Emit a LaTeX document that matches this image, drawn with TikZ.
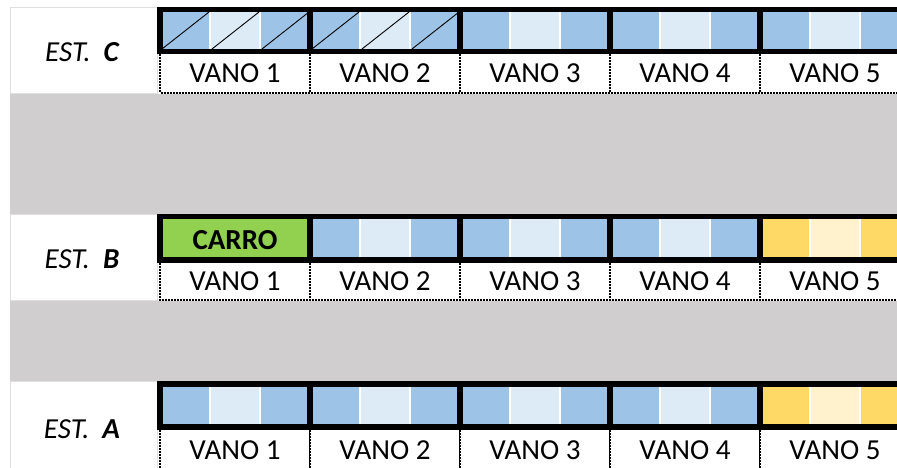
\documentclass[tikz,border=0pt]{standalone}
\usepackage{fontspec}
\setmainfont{Carlito}
\definecolor{azulosc}{RGB}{157,195,230}
\definecolor{azulcla}{RGB}{221,235,247}
\definecolor{amarosc}{RGB}{255,217,102}
\definecolor{amarcla}{RGB}{255,242,204}
\definecolor{verde}{RGB}{146,208,80}
\definecolor{franja}{RGB}{208,206,206}
\begin{document}
\begin{tikzpicture}[x=1pt,y=-1pt]
	\tikzset{
		celda/.style={draw=white,line width=1.5pt},
		marco/.style={draw=black,line width=5.5pt},
		etiq/.style={draw=black,line width=1.8pt,dash pattern=on 2pt off 1pt,fill=white},
		vano/.style={font=\fontsize{29}{32}\selectfont,inner sep=0pt},
		est/.style={font=\fontsize{29}{32}\selectfont\itshape,inner sep=0pt},
		caja/.style={draw=gray!25,fill=white,line width=0.8pt}
	}
	\useasboundingbox (0,0) rectangle (897,468);
	\clip (0,0) rectangle (897,468);
	\fill[white] (0,0) rectangle (897,468);
	
	% franjas grises entre estaciones
	\fill[franja] (10,94) rectangle (897,216);
	\fill[franja] (10,301) rectangle (897,384);
	
	% estacion / arriba / abajo / fin etiqueta / color del vano 5 (oscuro, claro)
	\foreach \e/\yt/\yb/\yl/\co/\cc in {C/9.5/51.5/93/azulosc/azulcla,
		B/216.5/260/300/amarosc/amarcla, A/384/427/472/amarosc/amarcla}{
		\draw[caja] (10,\yt-2.5) rectangle (157,\yl);
		\node[est] (est\e) at (82,{(\yt+\yl)/2+1}) {EST.~~\textbf{\e}};
		\foreach \i in {0,...,4}{
			\pgfmathsetmacro{\xo}{160+150*\i}
			\ifnum\i=4
				\def\oscuro{\co}\def\claro{\cc}
			\else
				\def\oscuro{azulosc}\def\claro{azulcla}
			\fi
			\draw[etiq] (\xo,\yb) rectangle (\xo+150,\yl);
			\node[vano] (vano\e\i) at (\xo+75,{(\yb+\yl)/2+1}) {VANO \pgfmathparse{int(\i+1)}\pgfmathresult};
			\fill[celda,fill=\oscuro] (\xo,\yt) rectangle (\xo+50,\yb);
			\fill[celda,fill=\claro] (\xo+50,\yt) rectangle (\xo+100,\yb);
			\fill[celda,fill=\oscuro] (\xo+100,\yt) rectangle (\xo+150,\yb);
		}
	}
	
	% vanos 1 y 2 de la estacion C rayados
	\foreach \x in {160,210,...,410}
	\draw[black,line width=0.9pt] (\x+2,49) -- (\x+49,12);
	
	% carro en el vano 1 de la estacion B
	\fill[verde] (160,216.5) rectangle (310,260);
	\node[font=\fontsize{29}{32}\selectfont\bfseries,inner sep=0pt] (carro) at (235,240) {CARRO};
	
	% marcos negros de las vigas
	\foreach \yt/\yb in {9.5/51.5, 216.5/260, 384/427}{
		\draw[marco] (160,\yt) rectangle (920,\yb);
		\foreach \x in {310,460,610,760}
		\draw[marco] (\x,\yt) -- (\x,\yb);
	}
\end{tikzpicture}
\end{document}
